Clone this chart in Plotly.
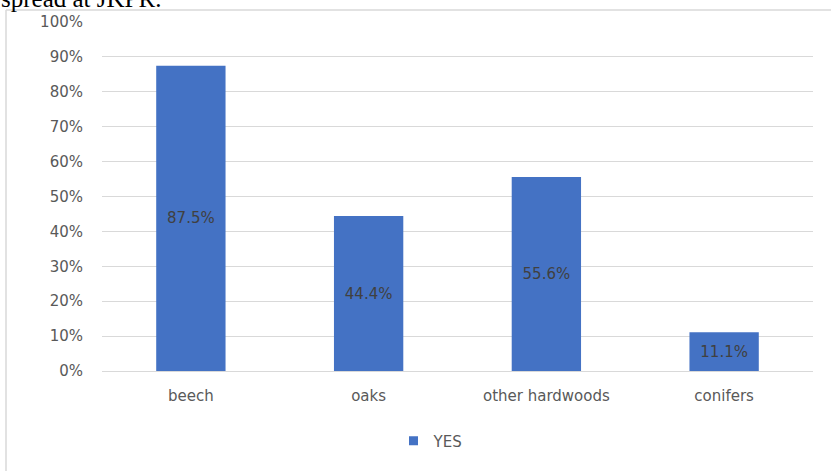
import plotly.graph_objects as go

# Share of sites answering YES, by tree group
categories = ["beech", "oaks", "other hardwoods", "conifers"]
yes_pct = [87.5, 44.4, 55.6, 11.1]
y_ticks = list(range(0, 101, 10))
y_tick_labels = [f"{v}%" for v in y_ticks]

W, H = 831, 471
ML, MR, MT, MB = 102, 18, 22, 100
PW, PH = W - ML - MR, H - MT - MB


def px_x(x):
    return (x - ML) / PW


def px_y(y):
    return (H - MB - y) / PH


BLUE = "#4472C4"
FONT = "DejaVu Sans"

fig = go.Figure()
fig.add_trace(go.Bar(
    x=categories,
    y=yes_pct,
    name="YES",
    marker=dict(color=BLUE, line=dict(width=0)),
    texttemplate="%{y:.1f}%",
    textposition="inside",
    insidetextanchor="middle",
    textangle=0,
    textfont=dict(family=FONT, size=15, color="#404040"),
    showlegend=False,
))
# legend entry with a small square key
fig.add_trace(go.Scatter(
    x=[None], y=[None], mode="markers", name="YES",
    marker=dict(symbol="square", size=9, color=BLUE),
    showlegend=True,
))

fig.update_layout(
    width=W, height=H,
    margin=dict(l=ML, r=MR, t=MT, b=MB),
    paper_bgcolor="white",
    plot_bgcolor="white",
    bargap=0.61,
    font=dict(family=FONT, size=15, color="#595959"),
    legend=dict(
        orientation="h", x=px_x(431), xanchor="center",
        y=px_y(441), yanchor="middle",
        font=dict(family=FONT, size=15, color="#595959"),
        itemwidth=30,
    ),
    xaxis=dict(
        showgrid=False, showline=False, ticks="",
        ticklabelstandoff=14,
        tickfont=dict(family=FONT, size=15, color="#595959"),
    ),
    yaxis=dict(
        range=[0, 100], tickmode="array",
        tickvals=y_ticks, ticktext=y_tick_labels,
        showgrid=True, gridcolor="#D9D9D9", gridwidth=1,
        zeroline=True, zerolinecolor="#D9D9D9", zerolinewidth=1,
        showline=False, ticks="",
        ticklabelstandoff=18,
        tickfont=dict(family=FONT, size=15, color="#595959"),
    ),
    shapes=[
        # chart frame (top and left edges)
        dict(type="line", xref="paper", yref="paper",
             x0=px_x(6), x1=px_x(831), y0=px_y(10), y1=px_y(10),
             line=dict(color="#D9D9D9", width=1.5)),
        dict(type="line", xref="paper", yref="paper",
             x0=px_x(6), x1=px_x(6), y0=px_y(10), y1=px_y(471),
             line=dict(color="#D9D9D9", width=1.5)),
    ],
    annotations=[
        dict(text="spread at JKPR.", xref="paper", yref="paper",
             x=px_x(0), y=px_y(13), xanchor="left", yanchor="bottom",
             showarrow=False, borderpad=0,
             font=dict(family="Liberation Serif", size=25, color="#000000")),
    ],
)

fig.write_html("out.html")
